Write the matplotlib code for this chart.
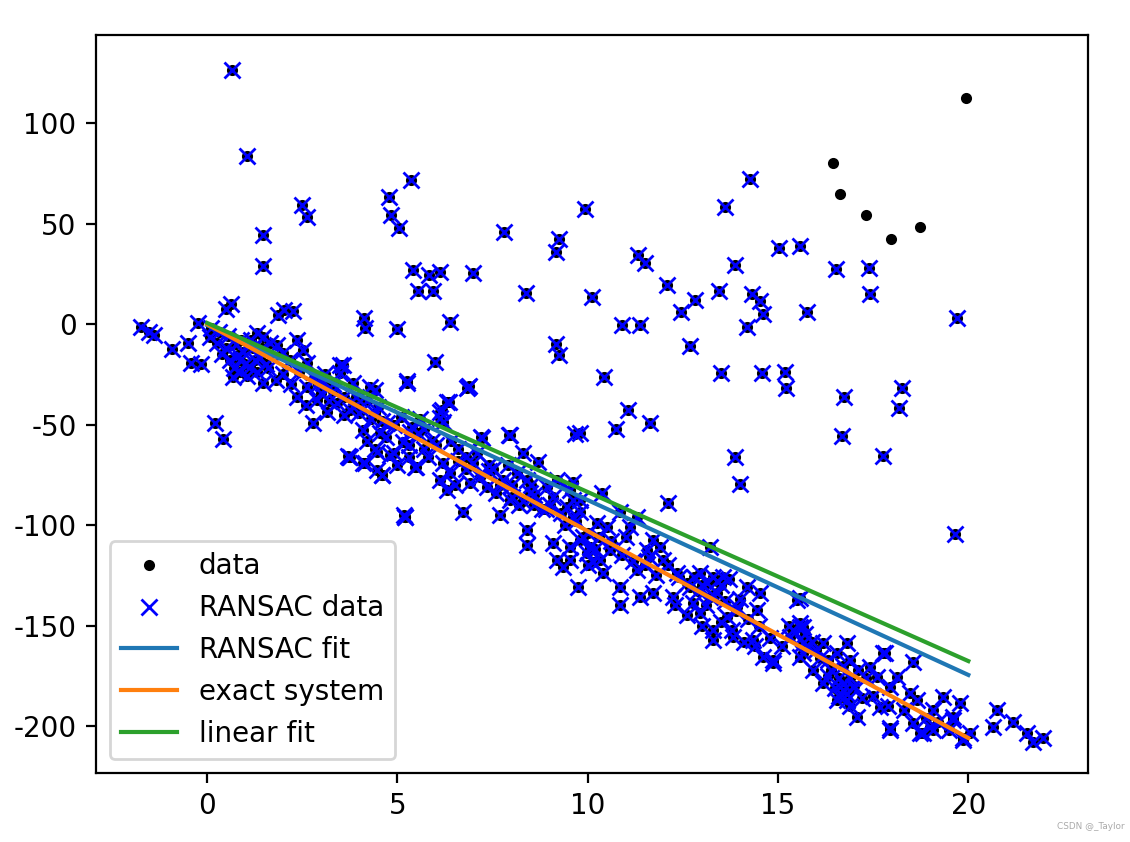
import numpy as np
import matplotlib.pyplot as plt

plt.rcParams['axes.unicode_minus'] = False

# points picked by RANSAC, close to the true line
band_x = [-1.73, -1.52, -1.39, -0.92, -0.50, -0.42, -0.16, -0.24, 0.08, 0.26, 0.81, 0.87,
          0.68, 1.13, 1.31, 1.47, 1.66, 1.84, 1.47, 2.00, 2.18, 2.37, 2.52, 2.63, 2.37, 2.63,
          2.89, 2.79, 3.15, 3.50, 3.42, 3.76, 4.10, 4.28, 3.76, 4.10, 4.47, 3.05, 3.50, 3.84,
          0.10, 0.30, 0.50, 0.60, 0.70, 0.90, 1.00, 1.20, 1.40, 1.30, 1.60, 1.80, 2.00, 2.20,
          2.40, 2.60, 2.80, 3.00, 3.20, 3.30, 3.60, 3.90, 4.00, 4.30, 4.50, 4.70, 4.90, 5.10,
          5.30, 5.60, 5.70, 5.90, 3.57, 3.71, 4.15, 4.60, 5.49, 5.18, 3.73,
          5.26, 6.86, 4.42, 6.31, 6.12, 6.20, 7.96, 7.23, 4.73, 4.55, 5.39, 5.55, 5.15, 4.47,
          4.81, 4.60, 5.47, 5.20, 6.20, 6.39, 6.12, 6.31, 6.73, 6.99, 7.17, 7.36, 6.91, 7.78,
          7.70, 7.96, 8.30, 8.70, 8.41, 8.15, 8.49, 8.94, 9.20, 9.54, 9.62, 9.80, 8.41, 8.41,
          9.09, 9.20, 9.54, 9.88, 9.99, 10.14, 9.36, 5.34, 7.50, 8.00, 8.60, 9.00, 9.30, 9.60,
          7.40, 7.60, 8.20, 8.80, 6.60, 6.80,
          10.38, 13.22, 9.62, 9.46, 9.80, 10.25, 10.51, 10.85, 11.12, 11.30, 9.80, 9.54, 10.07,
          10.33, 10.59, 10.41, 9.75, 10.85, 10.85, 11.38, 11.72, 11.30, 11.56, 11.72, 11.91,
          11.98, 12.25, 12.35, 12.62, 12.77, 12.96, 13.14, 13.30, 13.56, 13.40, 12.96, 13.30,
          13.30, 13.82, 13.67, 13.93, 14.19, 14.53, 14.45, 14.35, 14.61, 14.88, 15.51, 15.40,
          15.58, 15.66, 15.58, 13.00, 13.20, 12.90, 13.40, 13.10, 12.12,
          15.58, 15.58, 15.32, 14.88, 15.66, 15.93, 16.19, 16.19, 16.56, 16.82, 16.71, 16.98,
          16.82, 17.08, 16.56, 16.90, 17.42, 17.61, 17.77, 18.13, 17.95, 17.69, 17.95, 18.55,
          18.48, 18.66, 18.55, 18.74, 19.08, 19.34, 19.79, 19.61, 19.87, 19.00, 16.60, 16.70,
          16.80, 16.50, 16.90, 16.40, 16.30, 16.00, 16.10, 15.90, 15.70, 15.80,
          20.76, 20.66, 21.18, 21.55, 21.71, 21.97, 20.05, 19.87, 17.82, 15.66, 17.95, 18.82,
          19.08, 19.61,
          3.30, 3.60, 3.90, 4.20, 4.40, 3.10, 2.90, 5.70, 6.00, 6.40, 6.60, 6.80, 5.80, 6.50,
          7.10, 7.40, 7.70, 8.00, 8.30, 8.60, 8.90, 9.10, 7.90, 8.50, 10.00, 10.30, 10.60, 10.90,
          11.20, 11.50, 11.80, 12.10, 12.40, 12.70, 11.00, 11.60, 13.30, 13.60, 13.90, 14.20,
          14.50, 14.80, 15.10, 15.30, 13.50, 14.00, 16.30, 16.60, 16.90, 17.20, 17.00, 17.30,
          16.70, 17.10,
          0.55, 0.75, 0.95, 1.15, 1.25, 1.45, 1.55, 0.85, 1.05, 0.40, 4.20, 4.40, 4.90, 5.00,
          5.30, 4.60, 12.30, 12.60, 13.00, 13.50, 13.80, 14.10, 14.40, 12.80, 13.70, 17.50,
          17.90, 18.30, 18.90, 19.20, 19.50, 9.40, 9.70, 10.20, 10.00]
band_y = [-1.5, -4.0, -5.5, -12.4, -9.5, -19.4, -19.9, 0.5, -6.5, -9.5, -15.4, -23.9,
          -26.4, -21.4, -4.5, -6.5, -9.5, -10.4, -29.4, -14.4, -17.9, -8.0, -12.9, -19.4, -36.3, -31.3,
          -37.8, -49.3, -43.8, -20.4, -39.3, -42.8, -52.7, -31.3, -66.2, -69.2, -72.6, -29.4, -24.4, -29.4,
          -2.0, -4.0, -12.0, -18.0, -22.0, -8.0, -20.0, -12.0, -17.0, -24.0, -22.0, -28.0, -25.0, -30.0,
          -24.0, -40.0, -27.0, -34.0, -38.0, -30.0, -45.0, -36.0, -44.0, -47.0, -41.0, -56.0, -50.0, -46.0,
          -60.0, -47.0, -62.0, -58.0, -20.4, -65.7, -69.2, -75.1, -71.1, -95.0, -66.2,
          -29.4, -31.3, -32.8, -38.8, -43.8, -48.8, -55.2, -56.7, -49.3, -54.2, -51.2, -54.2, -58.7, -63.7,
          -65.2, -75.1, -71.1, -96.0, -69.2, -74.1, -77.6, -82.6, -93.5, -69.2, -76.1, -81.1, -79.1, -77.6,
          -95.0, -87.6, -64.2, -68.7, -77.6, -74.1, -84.1, -81.1, -77.6, -82.6, -78.6, -87.6, -102.5, -110.0,
          -109.0, -117.4, -110.9, -106.0, -113.9, -118.4, -120.9, -53.7, -72.0, -80.0, -85.0, -90.0, -94.0, -96.0,
          -70.0, -84.0, -90.0, -92.0, -62.0, -66.0,
          -84.1, -110.9, -87.6, -91.0, -93.5, -99.0, -101.0, -93.5, -101.0, -96.0, -107.5, -117.4, -110.9,
          -117.4, -112.4, -123.9, -130.8, -130.8, -139.8, -135.8, -133.8, -122.4, -112.4, -107.5, -110.9,
          -117.4, -135.8, -123.9, -128.9, -138.8, -123.9, -128.9, -125.9, -125.9, -133.8, -143.8, -152.2,
          -157.2, -155.7, -145.8, -140.8, -130.8, -133.8, -142.3, -157.2, -165.7, -168.7, -137.3, -152.2,
          -148.8, -158.7, -165.7, -130.0, -136.0, -133.0, -128.0, -140.0, -89.1,
          -136.3, -150.7, -155.7, -167.2, -163.7, -172.1, -158.7, -178.6, -187.1, -158.7, -182.1, -180.6,
          -187.1, -195.5, -163.7, -167.2, -170.6, -175.6, -163.7, -175.6, -180.6, -190.5, -202.0, -168.2,
          -183.6, -187.1, -198.5, -203.5, -192.0, -185.6, -188.6, -195.5, -207.0, -200.5, -176.0, -179.0,
          -184.0, -181.0, -176.0, -172.0, -167.0, -162.0, -166.0, -158.0, -154.0, -160.0,
          -192.0, -200.5, -198.0, -203.5, -208.0, -206.0, -203.5, -206.0, -163.7, -150.7, -201.0, -203.5,
          -202.0, -197.0,
          -33.0, -36.0, -40.0, -38.0, -44.0, -25.0, -30.0, -52.0, -60.0, -58.0, -68.0, -72.0, -66.0, -80.0,
          -64.0, -73.0, -80.0, -86.0, -88.0, -90.0, -92.0, -86.0, -70.0, -80.0, -104.0, -106.0, -108.0, -115.0,
          -118.0, -120.0, -125.0, -120.0, -126.0, -131.0, -106.0, -116.0, -135.0, -138.0, -143.0, -147.0,
          -150.0, -156.0, -160.0, -150.0, -130.0, -137.0, -175.0, -185.0, -190.0, -186.0, -180.0, -176.0,
          -170.0, -172.0,
          -6.0, -10.0, -14.0, -8.0, -18.0, -12.0, -20.0, -18.0, -26.0, -15.0, -58.0, -62.0, -64.0, -70.0,
          -66.0, -48.0, -140.0, -145.0, -150.0, -148.0, -152.0, -158.0, -160.0, -126.0, -127.0, -185.0,
          -190.0, -192.0, -196.0, -198.0, -202.0, -100.0, -98.0, -112.0, -120.0]

# scattered points that RANSAC still marked
scatter_x = [0.66, 1.05, 2.50, 2.63, 1.47, 1.47, 4.78, 5.36, 4.84, 5.05, 7.81, 9.25, 9.17, 9.93,
             5.41, 5.83, 6.12, 6.99, 5.55, 5.94, 8.38, 10.12, 0.63, 0.50, 1.87, 2.02, 2.26, 4.13,
             4.15, 4.99, 6.39, 14.27, 13.61, 11.33, 11.51, 12.09, 12.46, 12.83, 13.46, 13.88,
             15.03, 15.58, 14.32, 14.53, 14.61, 14.19, 15.77, 16.53, 17.40, 17.42, 19.71, 10.91,
             11.38, 12.69, 10.43, 13.51, 14.59, 15.19, 15.22, 16.74, 18.27, 18.19, 11.06, 10.75,
             11.64, 16.69, 13.88, 17.77, 14.01, 19.66, 9.80, 9.17, 9.25, 5.99, 5.26, 6.89, 6.83,
             9.67, 7.94, 7.20, 0.21, 0.42, 5.20, 6.36, 6.18, 6.12]
scatter_y = [126.4, 83.6, 59.2, 53.2, 44.3, 28.9, 63.2, 71.6, 54.2, 47.8, 45.8, 42.3, 35.8, 57.2,
             26.9, 24.4, 25.9, 25.4, 16.4, 16.4, 15.4, 13.4, 10.0, 7.5, 4.5, 7.0, 6.5, 3.0,
             -2.0, -2.5, 1.0, 72.1, 58.2, 34.3, 30.3, 19.4, 6.0, 11.9, 16.4, 29.4,
             37.8, 38.8, 14.9, 11.4, 5.0, -1.5, 6.0, 27.4, 27.9, 14.9, 3.0, -0.5,
             -0.5, -10.9, -26.4, -24.4, -24.4, -23.9, -31.8, -36.3, -31.8, -41.8, -42.8, -52.2,
             -49.3, -55.7, -66.2, -65.7, -79.6, -104.5, -54.2, -10.0, -15.4, -18.9, -28.4, -30.8, -31.8,
             -54.7, -55.2, -56.2, -49.3, -57.2, -96.0, -38.8, -42.8, -46.8]

# points left out by RANSAC (only drawn as data)
rejected_x = [19.95, 16.45, 16.64, 17.32, 17.98, 18.74]
rejected_y = [112.4, 80.1, 64.7, 54.2, 42.3, 48.3]

# fitted lines, end points
line_x = [0, 20]
exact_y = [0.0, -206.0]
ransac_y = [-0.5, -174.6]
linear_y = [0.6, -167.7]

inlier_x = np.array(band_x + scatter_x)
inlier_y = np.array(band_y + scatter_y)
data_x = np.concatenate([inlier_x, rejected_x])
data_y = np.concatenate([inlier_y, rejected_y])

fig = plt.figure(figsize=(5.65, 4.21), dpi=200)
ax = fig.add_subplot(111)
fig.subplots_adjust(left=0.085, right=0.963, bottom=0.082, top=0.958)

ax.plot(data_x, data_y, 'k.', label='data')
ax.plot(inlier_x, inlier_y, 'bx', label='RANSAC data')
ax.plot(line_x, ransac_y, label='RANSAC fit')
ax.plot(line_x, exact_y, label='exact system')
ax.plot(line_x, linear_y, label='linear fit')

ax.set_xlim(-2.92, 23.15)
ax.set_ylim(-223.4, 143.8)
ax.set_xticks([0, 5, 10, 15, 20])
ax.set_yticks([-200, -150, -100, -50, 0, 50, 100])
ax.legend(loc='lower left')

fig.text(0.995, 0.016, 'CSDN @_Taylor', fontsize=3.2, color='#aaaaaa', ha='right')

plt.savefig('out.png', dpi=200)
